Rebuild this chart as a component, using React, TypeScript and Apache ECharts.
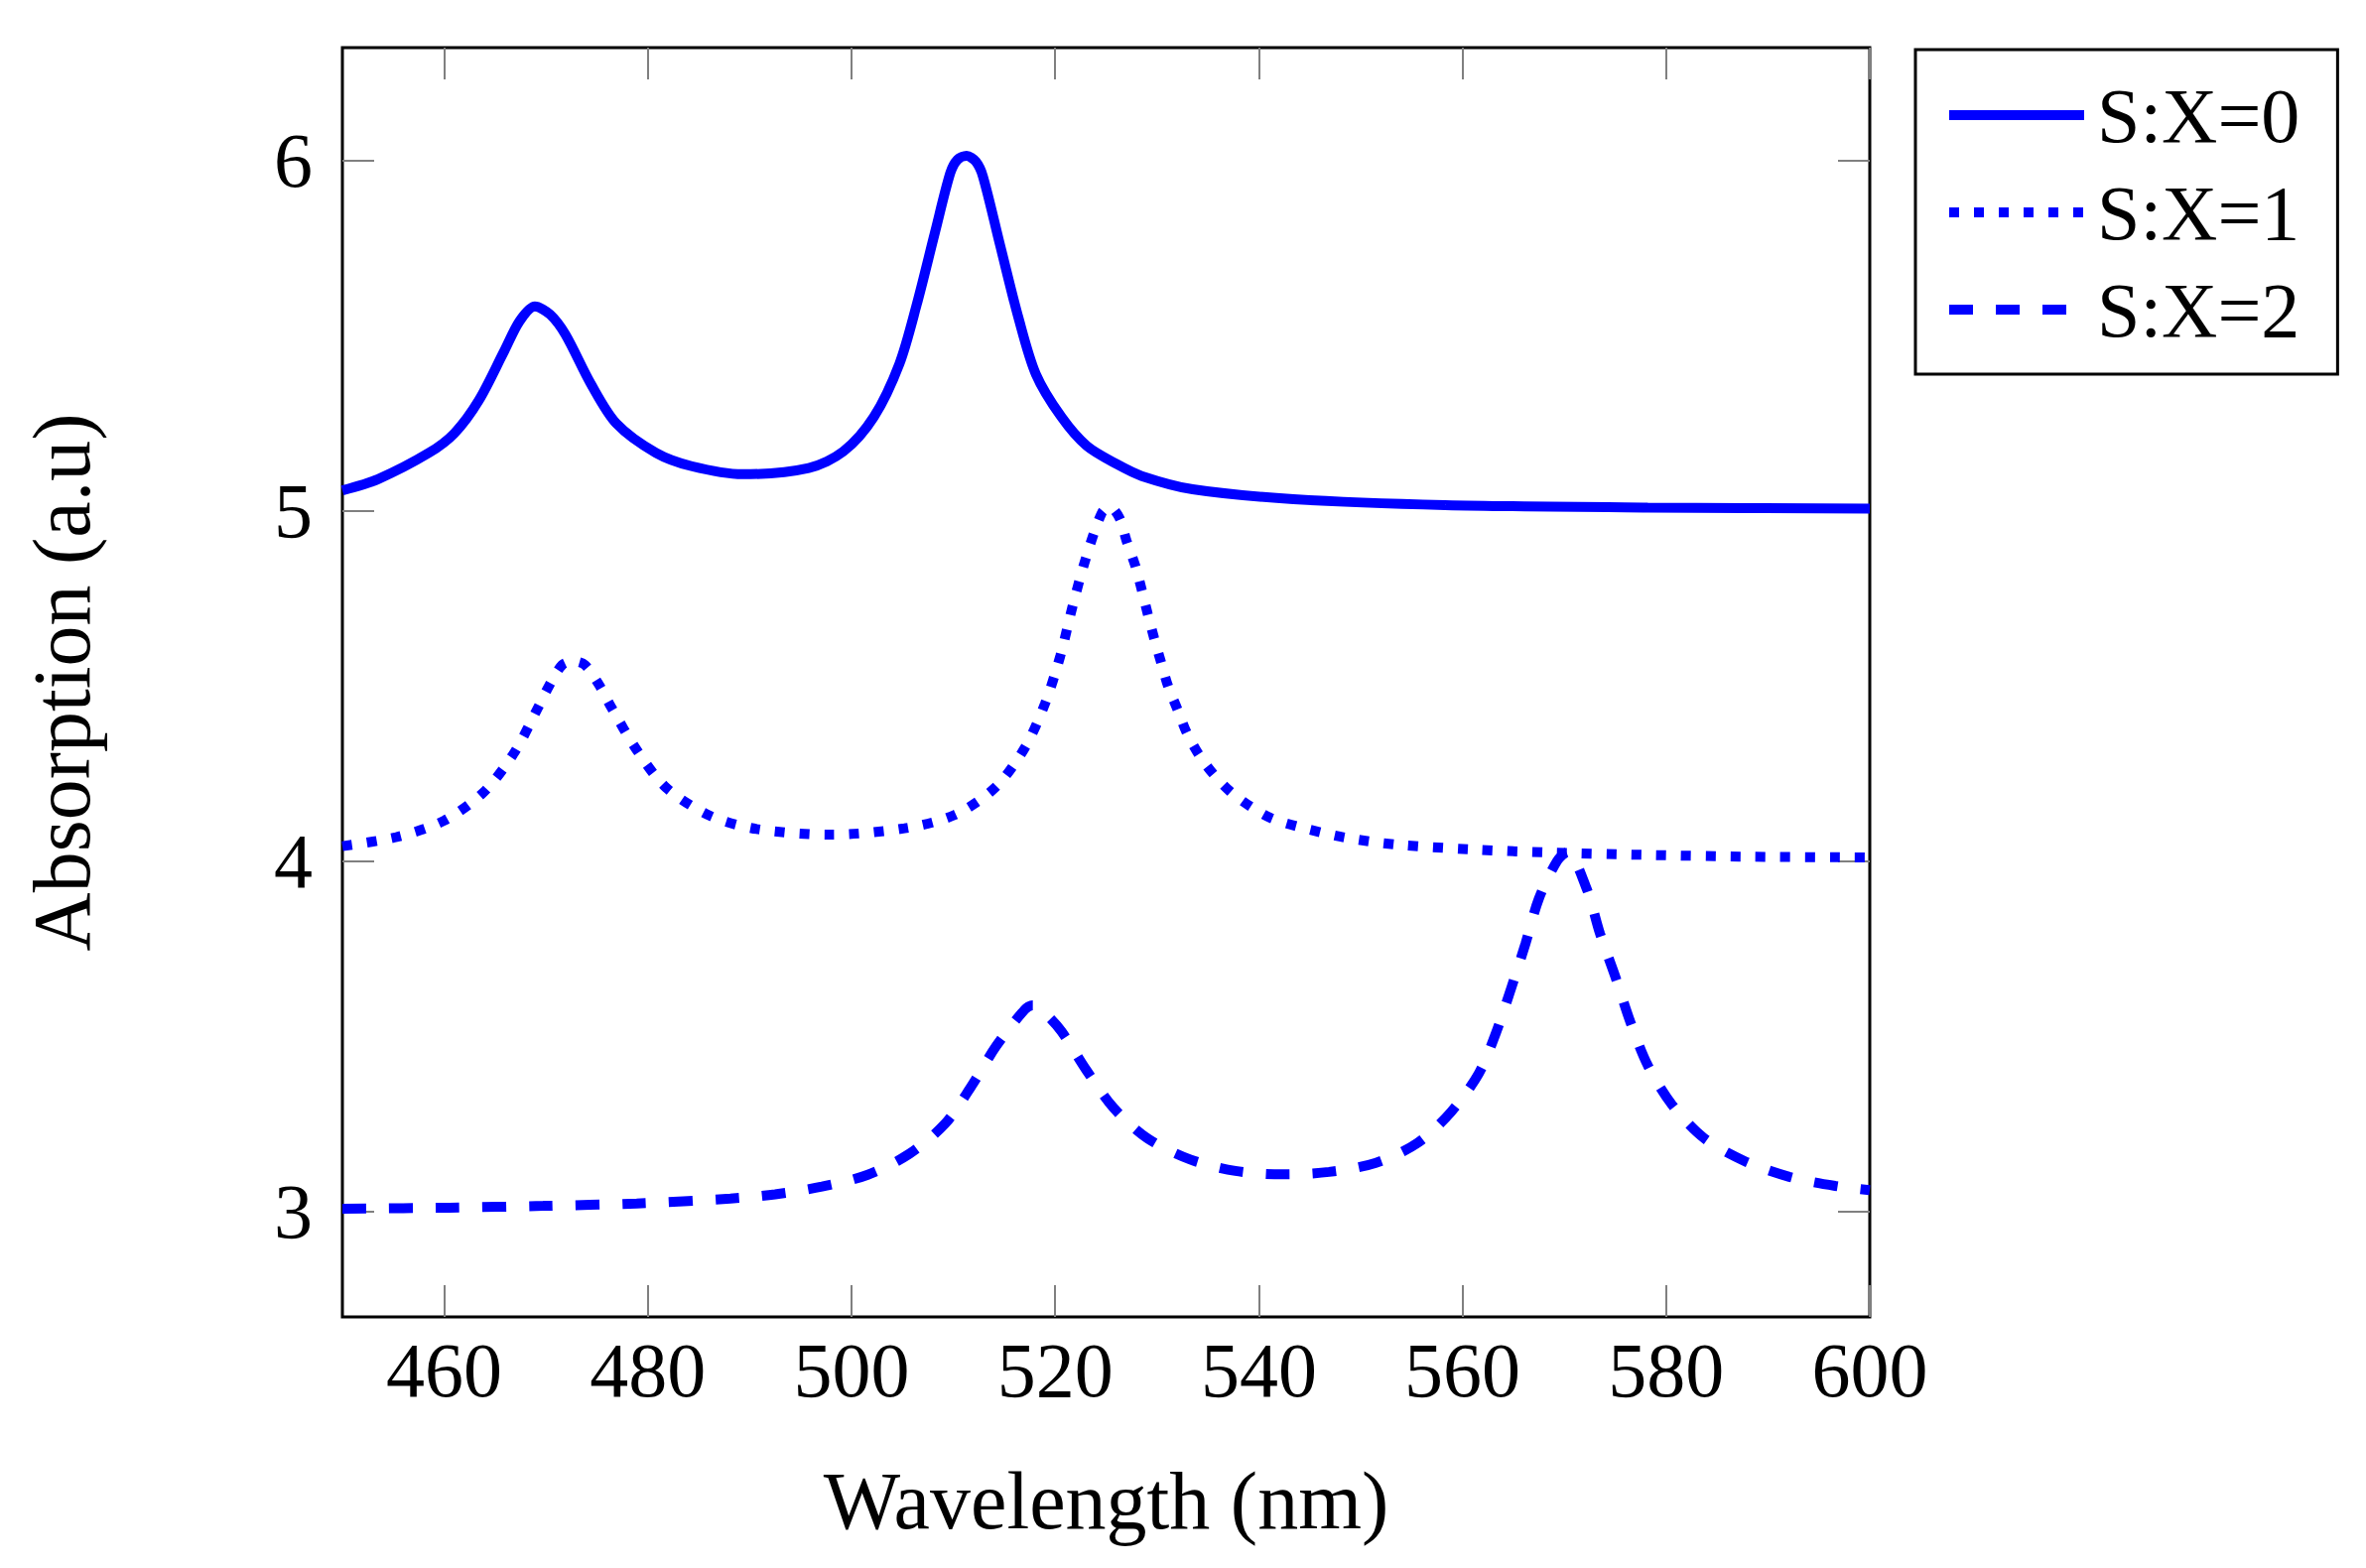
import * as echarts from "echarts";
import { useEffect, useRef } from "react";

const xTicks = [460, 480, 500, 520, 540, 560, 580, 600];
const yTicks = [3, 4, 5, 6];
const seriesNames = ["S:X=0", "S:X=1", "S:X=2"];

// S:X=0 (solid)
const wl0 = [
  450, 453.5, 458.5, 461, 463.4, 465.9, 467.4, 468.9, 470.4, 471.9, 474.4, 476.9,
  480.8, 484.3, 489.3, 495.8, 499.2, 502.2, 504.7, 506.4, 508.2, 509.7, 510.4,
  511.3, 512.2, 512.9, 514.6, 516.4, 518.1, 520.6, 523.1, 526.1, 528.5, 533.5,
  543.4, 558.3, 578.2, 600,
];
const abs0 = [
  5.058, 5.09, 5.165, 5.221, 5.315, 5.456, 5.541, 5.583, 5.56, 5.503, 5.362, 5.249,
  5.165, 5.127, 5.104, 5.122, 5.169, 5.268, 5.419, 5.588, 5.795, 5.964, 6.002,
  6.013, 5.997, 5.955, 5.757, 5.55, 5.39, 5.268, 5.185, 5.132, 5.099, 5.061,
  5.033, 5.016, 5.009, 5.006,
];

// S:X=1 (dotted)
const wl1 = [
  450, 455.3, 460, 463.9, 466.9, 469.2, 470.3, 471.6, 472.7, 473.8, 475.2, 476.4,
  478.9, 481.8, 486.1, 490.7, 498, 505.2, 510.1, 514.1, 517, 519, 520.5, 521.7,
  523, 524.6, 525.4, 526.3, 527, 527.9, 528.5, 529.1, 529.7, 530.4, 531.1, 532,
  532.9, 534.1, 535.5, 537.2, 539.2, 541.2, 543.7, 548.4, 553.4, 560.8, 568.3,
  578.2, 588.2, 600,
];
const abs1 = [
  4.042, 4.068, 4.115, 4.197, 4.31, 4.437, 4.5, 4.56, 4.57, 4.56, 4.503, 4.439,
  4.317, 4.209, 4.129, 4.091, 4.075, 4.093, 4.131, 4.209, 4.322, 4.449, 4.585, 4.726,
  4.863, 4.995, 5.01, 4.98, 4.915, 4.84, 4.774, 4.704, 4.638, 4.567, 4.498, 4.433,
  4.367, 4.304, 4.249, 4.198, 4.155, 4.122, 4.099, 4.067, 4.047, 4.033, 4.024,
  4.017, 4.012, 4.01,
];

// S:X=2 (dashed)
const wl2 = [
  450, 460.5, 469.7, 478.9, 488.1, 492.5, 497.1, 501.6, 505.7, 509.2, 511.8, 514.2,
  517, 517.8, 519, 520.6, 523.1, 525.7, 529, 533.2, 537.7, 542.3, 546.9, 551.5,
  555.6, 558.9, 561.6, 563.3, 564.8, 566.2, 567.5, 569.3, 570.3, 572.2, 573.5,
  575, 576.5, 578.2, 580.6, 583.7, 587.7, 592.1, 596.6, 600,
];
const abs2 = [
  3.007, 3.01, 3.015, 3.022, 3.036, 3.048, 3.07, 3.104, 3.164, 3.25, 3.358, 3.471,
  3.575, 3.588, 3.565, 3.514, 3.401, 3.296, 3.209, 3.148, 3.115, 3.105, 3.112, 3.138,
  3.195, 3.284, 3.393, 3.51, 3.638, 3.765, 3.892, 4.0, 4.025, 3.92, 3.793,
  3.67, 3.539, 3.416, 3.303, 3.209, 3.143, 3.098, 3.072, 3.06,
];

const FONT = "Liberation Serif";
const BLUE = "#0000ff";

const zip = (xs: number[], ys: number[]) => xs.map((x, i) => [x, ys[i]]);

export default function App() {
  const chartRef = useRef<HTMLDivElement>(null);

  useEffect(() => {
    document.body.style.margin = "0";
    const chart = echarts.init(chartRef.current!, null, { renderer: "svg" });

    const tickStyle = {
      show: true,
      inside: true,
      length: 32,
      lineStyle: { color: "#808080", width: 2 },
    };

    const lineSeries = (name: string, data: number[][], type: any) => ({
      name,
      type: "line",
      data,
      symbol: "none",
      smooth: 0.3,
      xAxisIndex: 0,
      yAxisIndex: 0,
      lineStyle: { color: BLUE, width: 10, type, cap: "butt" },
      itemStyle: { color: BLUE },
    });

    chart.setOption({
      animation: false,
      grid: {
        left: 345,
        right: 500,
        top: 48,
        bottom: 253,
        show: true,
        borderColor: "#000",
        borderWidth: 3,
        backgroundColor: "transparent",
      },
      legend: {
        orient: "vertical",
        left: 1930,
        top: 50,
        padding: [27, 38, 26, 29],
        itemWidth: 136,
        itemHeight: 20,
        itemGap: 20,
        align: "left",
        borderColor: "#000",
        borderWidth: 3,
        lineStyle: { width: 10 },
        itemStyle: { color: "rgba(0,0,0,0)", opacity: 0, borderWidth: 0 },
        textStyle: {
          fontFamily: FONT,
          fontSize: 78,
          lineHeight: 78,
          color: "#000",
          padding: [0, 0, 0, 8],
        },
        data: seriesNames,
      },
      xAxis: [
        {
          type: "value",
          min: 450,
          max: 600,
          position: "bottom",
          name: "Wavelength (nm)",
          nameLocation: "middle",
          nameGap: 144,
          nameTextStyle: { fontFamily: FONT, fontSize: 82, color: "#000" },
          axisLine: { show: false },
          axisTick: { ...tickStyle, customValues: xTicks },
          axisLabel: {
            customValues: xTicks,
            fontFamily: FONT,
            fontSize: 78,
            color: "#000",
            margin: 14,
          },
          splitLine: { show: false },
        },
        {
          type: "value",
          min: 450,
          max: 600,
          position: "top",
          axisLine: { show: false },
          axisTick: { ...tickStyle, customValues: xTicks },
          axisLabel: { show: false },
          splitLine: { show: false },
        },
      ],
      yAxis: [
        {
          type: "value",
          min: 2.698,
          max: 6.322,
          position: "left",
          name: "Absorption (a.u)",
          nameLocation: "middle",
          nameGap: 242,
          nameTextStyle: { fontFamily: FONT, fontSize: 82, color: "#000" },
          axisLine: { show: false },
          axisTick: { ...tickStyle, customValues: yTicks },
          axisLabel: {
            customValues: yTicks,
            fontFamily: FONT,
            fontSize: 78,
            color: "#000",
            margin: 30,
          },
          splitLine: { show: false },
        },
        {
          type: "value",
          min: 2.698,
          max: 6.322,
          position: "right",
          axisLine: { show: false },
          axisTick: { ...tickStyle, customValues: yTicks },
          axisLabel: { show: false },
          splitLine: { show: false },
        },
      ],
      series: [
        lineSeries(seriesNames[0], zip(wl0, abs0), "solid"),
        lineSeries(seriesNames[1], zip(wl1, abs1), [10, 15]),
        lineSeries(seriesNames[2], zip(wl2, abs2), [24, 23]),
      ],
    });
    return () => chart.dispose();
  }, []);

  return <div ref={chartRef} style={{ width: 2384, height: 1580 }} />;
}
